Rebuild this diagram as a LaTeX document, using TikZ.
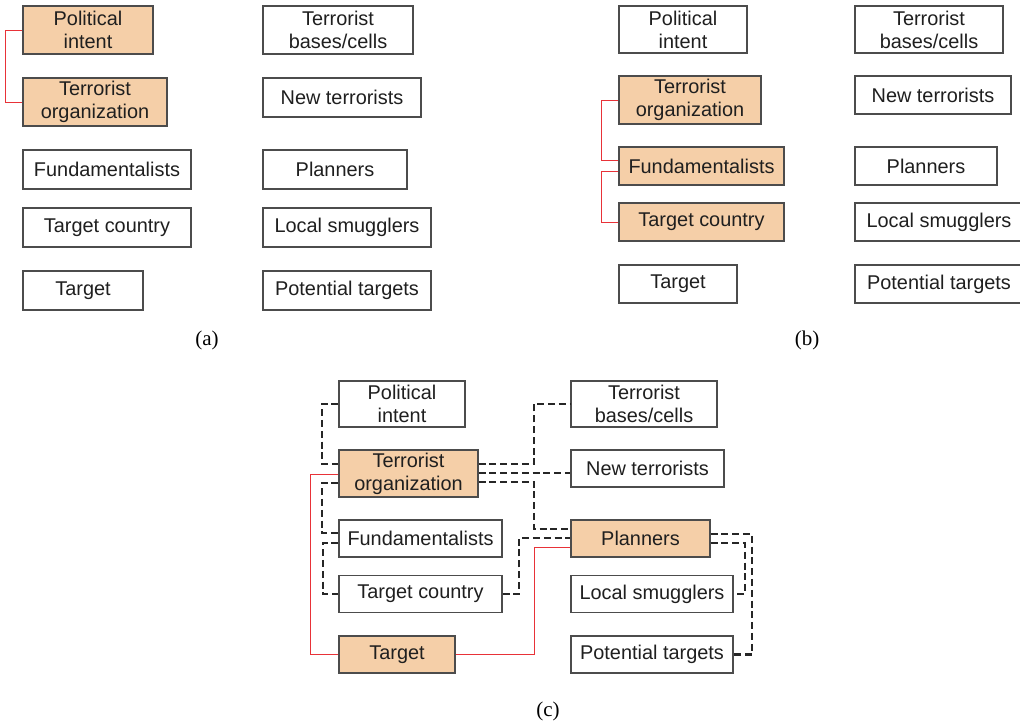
\documentclass[tikz,border=0pt]{standalone}
\usepackage{fontspec}
\setmainfont{Liberation Serif}
\newfontfamily\boxfont{Liberation Sans}
\begin{document}
\begin{tikzpicture}[x=1pt,y=-1pt,
  box/.style={draw=black!70, line width=1.1pt, fill=white, rectangle,
    inner sep=0pt, align=center, text=black!88,
    font=\boxfont\fontsize{19.9}{23}\selectfont},
  hot/.style={box, fill=hotfill},
  redlink/.style={draw=linkred, line width=1pt},
  dashlink/.style={draw=black!85, line width=2.5pt, dash pattern=on 7pt off 3.8pt},
  caption/.style={font=\fontsize{21}{24}\selectfont, text=black}]
\definecolor{hotfill}{RGB}{245,207,168}
\definecolor{linkred}{RGB}{232,50,56}
\useasboundingbox[fill=white] (0,0) rectangle (1020,726);

% ---- panel (a)
\node[hot, minimum width=130, minimum height=48] (a1) at (88,30) {Political\\intent};
\node[hot, minimum width=144, minimum height=48] (a2) at (95,102) {Terrorist\\organization};
\node[box, minimum width=168, minimum height=39] (a3) at (107,169.5) {Fundamentalists};
\node[box, minimum width=168, minimum height=39] (a4) at (107,227.5) {Target country};
\node[box, minimum width=120, minimum height=39] (a5) at (83,290.5) {Target};
\node[box, minimum width=150, minimum height=48] (a6) at (338,30) {Terrorist\\bases/cells};
\node[box, minimum width=158, minimum height=39] (a7) at (342,97.5) {New terrorists};
\node[box, minimum width=144, minimum height=39] (a8) at (335,169.5) {Planners};
\node[box, minimum width=168, minimum height=39] (a9) at (347,227.5) {Local smugglers};
\node[box, minimum width=168, minimum height=39] (a10) at (347,290.5) {Potential targets};
\draw[redlink] (a1.west) -- (5,30) |- (a2.west);
\node[caption] (capa) at (207,340) {(a)};

% ---- panel (b)
\begin{scope}[every node/.append style={font=\boxfont\fontsize{19.6}{23}\selectfont}]
\node[box, minimum width=128, minimum height=47] (b1) at (683,29.5) {Political\\intent};
\node[hot, minimum width=142, minimum height=48] (b2) at (690,100) {Terrorist\\organization};
\node[hot, minimum width=165, minimum height=38] (b3) at (701.5,166) {Fundamentalists};
\node[hot, minimum width=165, minimum height=38] (b4) at (701.5,222) {Target country};
\node[box, minimum width=118, minimum height=38] (b5) at (678,284) {Target};
\node[box, minimum width=148, minimum height=47] (b6) at (929,29.5) {Terrorist\\bases/cells};
\node[box, minimum width=156, minimum height=38] (b7) at (933,95) {New terrorists};
\node[box, minimum width=142, minimum height=38] (b8) at (926,166) {Planners};
\node[box, minimum width=168, minimum height=38] (b9) at (939,222) {Local smugglers};
\node[box, minimum width=168, minimum height=38] (b10) at (939,284) {Potential targets};
\end{scope}
\draw[redlink] (b2.west) -- (601,100) |- (b3.west |- 0,160);
\draw[redlink] (b3.west |- 0,171) -- (601,171) |- (b4.west);
\node[caption] (capb) at (807,340) {(b)};

% ---- panel (c)
\begin{scope}[every node/.append style={font=\boxfont\fontsize{19.3}{22.5}\selectfont}]
\node[box, minimum width=126, minimum height=46] (c1) at (402,404) {Political\\intent};
\node[hot, minimum width=139, minimum height=47] (c2) at (408.5,473.5) {Terrorist\\organization};
\node[box, minimum width=163, minimum height=37] (c3) at (420.5,538.5) {Fundamentalists};
\node[box, minimum width=163, minimum height=37] (c4) at (420.5,594) {Target country};
\node[hot, minimum width=116, minimum height=37] (c5) at (397,654.5) {Target};
\node[box, minimum width=146, minimum height=46] (c6) at (644,404) {Terrorist\\bases/cells};
\node[box, minimum width=153, minimum height=37] (c7) at (647.5,468.5) {New terrorists};
\node[hot, minimum width=139, minimum height=37] (c8) at (640.5,538.5) {Planners};
\node[box, minimum width=162, minimum height=37] (c9) at (652,594) {Local smugglers};
\node[box, minimum width=162, minimum height=37] (c10) at (652,654.5) {Potential targets};
\end{scope}

% red links
\draw[redlink] (c2.west |- 0,474) -- (310,474) |- (c5.west);
\draw[redlink] (c5.east) -- (534,654.5) |- (c8.west |- 0,547);

% dashed links, left column
\draw[dashlink] (c1.west) -- (322,404) |- (c2.west |- 0,464);
\draw[dashlink] (c2.west |- 0,483) -- (322,483) |- (c3.west |- 0,533);
\draw[dashlink] (c3.west |- 0,543) -- (323,543) |- (c4.west);
% dashed links, middle
\draw[dashlink] (c2.east |- 0,464) -- (534,464) |- (c6.west);
\draw[dashlink] (c2.east |- 0,473) -- (c7.west |- 0,473);
\draw[dashlink] (c2.east |- 0,482) -- (534,482) |- (c8.west |- 0,529);
\draw[dashlink] (c4.east) -- (519,594) |- (c8.west |- 0,538);
% dashed links, right
\draw[dashlink] (c8.east |- 0,534) -- (752,534) |- (c10.east);
\draw[dashlink] (c8.east |- 0,543) -- (745,543) |- (c9.east);

\node[caption] (capc) at (548,711) {(c)};
\end{tikzpicture}
\end{document}
